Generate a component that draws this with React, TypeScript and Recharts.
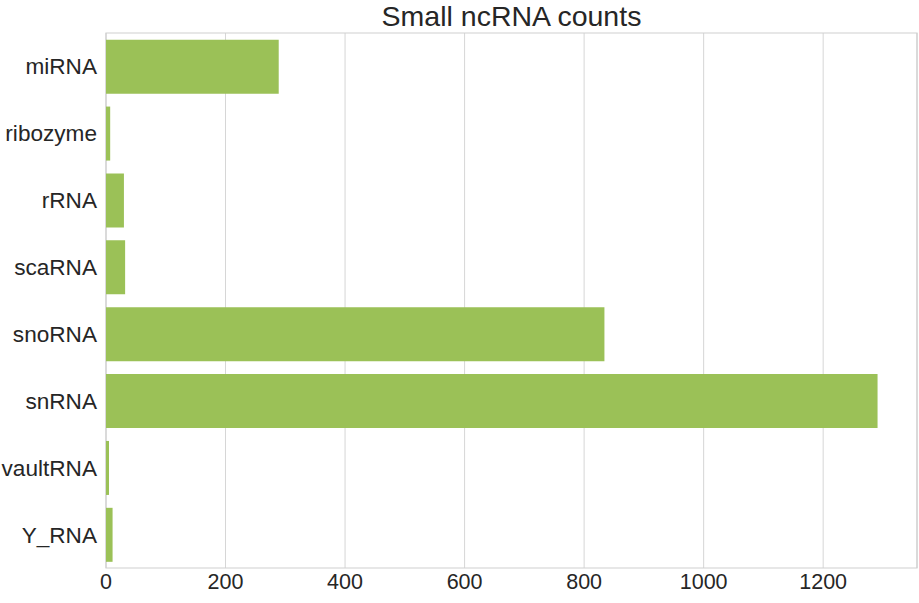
import { BarChart, Bar, XAxis, YAxis, CartesianGrid, ReferenceArea } from 'recharts';

const categories = ['miRNA', 'ribozyme', 'rRNA', 'scaRNA', 'snoRNA', 'snRNA', 'vaultRNA', 'Y_RNA'];
const counts = [289, 7, 30, 32, 834, 1291, 5, 11];
const xTicks = [0, 200, 400, 600, 800, 1000, 1200];

const FONT = '"Liberation Sans", Arial, sans-serif';
const BAR_COLOR = '#9bc157';
const GRID_COLOR = '#d6d6d6';
const TEXT_COLOR = '#262626';

export default function App() {
    const data = categories.map((name, i) => ({ name, count: counts[i] }));
    const xMax = 1357;

    return (
        <div style={{ position: 'absolute', left: 0, top: 0, width: 919, height: 603, background: '#fff', fontFamily: FONT }}>
            <div
                style={{
                    position: 'absolute',
                    left: 106,
                    width: 811,
                    top: 0,
                    textAlign: 'center',
                    fontSize: 28.5,
                    color: TEXT_COLOR,
                    fontFamily: FONT,
                }}
            >
                Small ncRNA counts
            </div>
            <BarChart
                width={919}
                height={603}
                data={data}
                layout="vertical"
                margin={{ top: 33, right: 2, left: 0, bottom: 0 }}
                barCategoryGap="10%"
            >
                <CartesianGrid horizontal={false} stroke={GRID_COLOR} />
                <XAxis
                    type="number"
                    domain={[0, xMax]}
                    ticks={xTicks}
                    height={35}
                    tickLine={false}
                    axisLine={false}
                    tickMargin={0}
                    tick={{ fontSize: 21.5, fill: TEXT_COLOR, fontFamily: FONT }}
                />
                <YAxis
                    type="category"
                    dataKey="name"
                    width={106}
                    tickLine={false}
                    axisLine={false}
                    tickMargin={3}
                    tick={{ fontSize: 22.6, fill: TEXT_COLOR, fontFamily: FONT }}
                />
                <ReferenceArea x1={0} x2={xMax} fill="none" stroke="#cfcfcf" strokeWidth={1.2} />
                <Bar dataKey="count" fill={BAR_COLOR} isAnimationActive={false} />
            </BarChart>
        </div>
    );
}
